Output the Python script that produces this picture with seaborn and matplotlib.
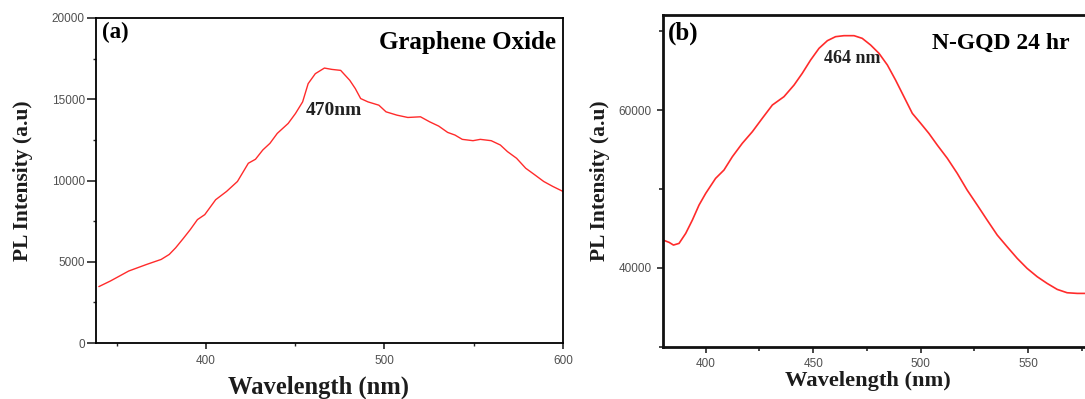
import matplotlib
matplotlib.use("Agg")
import matplotlib.pyplot as plt
import seaborn as sns
import pandas as pd
from matplotlib.ticker import MultipleLocator

# ---- data ----
go_wavelength = [340.1, 346.6, 356.8, 366.9, 375.0, 379.5, 383.1, 387.2, 391.3, 395.3, 399.4,
                 405.5, 411.6, 417.7, 423.8, 427.8, 431.9, 435.9, 440.0, 446.1, 450.2, 454.2,
                 457.3, 461.3, 466.4, 470.5, 475.5, 480.6, 483.7, 486.7, 490.8, 496.9, 500.9,
                 507.0, 513.1, 520.2, 525.3, 530.4, 535.4, 539.5, 543.6, 549.6, 553.7, 559.8,
                 564.9, 568.9, 574.0, 579.1, 584.2, 589.2, 594.3, 600.0]
go_intensity = [3470, 3817, 4429, 4837, 5143, 5449, 5858, 6409, 6980, 7593, 7899,
                8817, 9327, 9940, 11062, 11307, 11878, 12287, 12899, 13511, 14124, 14838,
                15961, 16573, 16920, 16838, 16777, 16165, 15655, 15042, 14838, 14634, 14226,
                14022, 13879, 13920, 13613, 13348, 12960, 12797, 12532, 12450, 12532, 12450,
                12185, 11777, 11368, 10756, 10348, 9940, 9634, 9327]

ngqd_wavelength = [380.2, 383.0, 385.0, 387.6, 390.7, 393.8, 396.9, 400.0, 404.6, 408.5, 412.4,
                   417.0, 421.7, 426.3, 431.0, 436.4, 441.1, 444.9, 448.8, 452.7, 456.6, 460.4,
                   464.3, 469.0, 472.8, 476.7, 480.6, 484.5, 488.3, 492.2, 496.1, 500.0, 503.8,
                   507.7, 512.4, 517.0, 521.6, 526.3, 530.9, 535.6, 540.2, 544.9, 549.5, 554.2,
                   558.8, 563.5, 568.1, 572.8, 575.9, 580.0]
ngqd_intensity = [43510, 43215, 42877, 43088, 44356, 46047, 47950, 49430, 51333, 52390, 54081,
                  55772, 57252, 58943, 60634, 61691, 63171, 64651, 66342, 67822, 68794, 69302,
                  69428, 69428, 69090, 68245, 67188, 65708, 63805, 61691, 59577, 58309, 57040,
                  55560, 53869, 51967, 49853, 47950, 46047, 44144, 42665, 41185, 39917, 38860,
                  38014, 37253, 36831, 36746, 36746, 36746]

go_df = pd.DataFrame({"Wavelength": go_wavelength, "Intensity": go_intensity})
ngqd_df = pd.DataFrame({"Wavelength": ngqd_wavelength, "Intensity": ngqd_intensity})

sns.set_style("ticks")
plt.rcParams["font.family"] = ["Liberation Sans", "DejaVu Sans"]

W, H = 1085, 399
fig = plt.figure(figsize=(W / 100, H / 100), dpi=100)

serif = ["Liberation Serif", "DejaVu Serif"]
label_color = "#1c1c1c"
line_color = "#ff2b2b"
tick_color = "#505050"

# ---- panel (a) ----
ax1 = fig.add_axes([96 / W, (H - 343) / H, 467 / W, 325 / H])
sns.lineplot(data=go_df, x="Wavelength", y="Intensity", ax=ax1, color=line_color, lw=1.0)
ax1.set_xlim(338.5, 600)
ax1.set_ylim(0, 20000)
ax1.xaxis.set_major_locator(MultipleLocator(100))
ax1.xaxis.set_minor_locator(MultipleLocator(50))
ax1.yaxis.set_major_locator(MultipleLocator(5000))
ax1.yaxis.set_minor_locator(MultipleLocator(2500))
for s in ax1.spines.values():
    s.set_color("black")
    s.set_linewidth(1.3)
ax1.tick_params(axis="y", which="major", length=6.5, width=1.2, labelsize=8.5,
                labelcolor=tick_color, pad=1.5)
ax1.tick_params(axis="x", which="major", length=4.3, width=1.2, labelsize=8.5,
                labelcolor=tick_color, pad=4)
ax1.tick_params(which="minor", length=2.5, width=1.0)
ax1.set_xlabel("Wavelength (nm)", family=serif, weight="bold", fontsize=17.7, color=label_color)
ax1.set_ylabel("PL Intensity (a.u)", family=serif, weight="bold", fontsize=15.5, color=label_color)
ax1.xaxis.label.set_va("center")
ax1.yaxis.label.set_va("center")
ax1.xaxis.set_label_coords(0.4775, -0.135)
ax1.yaxis.set_label_coords(-0.156, 0.5)
ax1.text(0.013, 0.957, "(a)", transform=ax1.transAxes, family=serif, weight="bold",
         fontsize=16.5, ha="left", va="center", color="black")
ax1.text(0.985, 0.926, "Graphene Oxide", transform=ax1.transAxes, family=serif, weight="bold",
         fontsize=18, ha="right", va="center", color="black")
ax1.text(471.7, 14338, "470nm", family=serif, weight="bold", fontsize=14,
         ha="center", va="center", color="#222222")

# ---- panel (b) ----
ax2 = fig.add_axes([662.7 / W, (H - 347) / H, 430 / W, 332 / H])
sns.lineplot(data=ngqd_df, x="Wavelength", y="Intensity", ax=ax2, color=line_color, lw=1.2)
ax2.set_xlim(380, 580)
ax2.set_ylim(29950, 72050)
ax2.xaxis.set_major_locator(MultipleLocator(50))
ax2.xaxis.set_minor_locator(MultipleLocator(25))
ax2.yaxis.set_major_locator(MultipleLocator(20000))
ax2.yaxis.set_minor_locator(MultipleLocator(10000))
for s in ax2.spines.values():
    s.set_color("#111111")
    s.set_linewidth(2.0)
ax2.tick_params(which="major", length=4.3, width=1.2, labelsize=8.5, labelcolor=tick_color, pad=3.6)
ax2.tick_params(which="minor", length=3, width=1.2)
ax2.set_xlabel("Wavelength (nm)", family=serif, weight="bold", fontsize=16.2, color=label_color)
ax2.set_ylabel("PL Intensity (a.u)", family=serif, weight="bold", fontsize=15.5, color=label_color)
ax2.xaxis.label.set_va("center")
ax2.yaxis.label.set_va("center")
ax2.xaxis.set_label_coords(0.476, -0.102)
ax2.yaxis.set_label_coords(-0.146, 0.5)
ax2.text(0.012, 0.946, "(b)", transform=ax2.transAxes, family=serif, weight="bold",
         fontsize=18, ha="left", va="center", color="black")
ax2.text(0.626, 0.916, "N-GQD 24 hr", transform=ax2.transAxes, family=serif, weight="bold",
         fontsize=17, ha="left", va="center", color="black")
ax2.text(468.3, 66595, "464 nm", family=serif, weight="bold", fontsize=13,
         ha="center", va="center", color="#222222")

fig.savefig("out.png", dpi=100, facecolor="white")
